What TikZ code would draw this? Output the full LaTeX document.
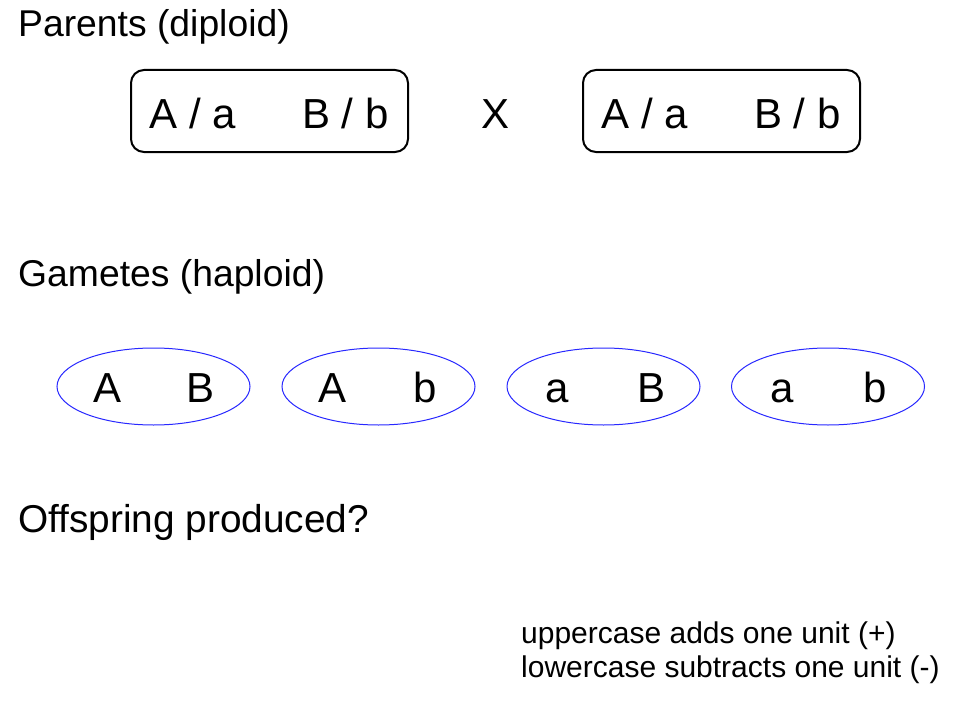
\documentclass[tikz,border=0pt]{standalone}
\usepackage{fontspec}
\setmainfont{Liberation Sans}
\usetikzlibrary{shapes.geometric}
\begin{document}
\begin{tikzpicture}[x=1pt,y=-1pt,
  heading/.style={anchor=base west,inner sep=0pt,font=\fontsize{37.3}{44}\selectfont},
  parentbox/.style={draw=black,line width=2pt,rounded corners=13pt,minimum width=277pt,minimum height=82pt,inner sep=0pt},
  gamete/.style={draw={rgb,255:red,40;green,40;blue,255},line width=1pt,ellipse,minimum width=193pt,minimum height=77pt,inner sep=0pt},
  allele/.style={anchor=base,inner sep=0pt,font=\fontsize{42}{50}\selectfont},
  note/.style={anchor=base west,inner sep=0pt,font=\fontsize{30}{36}\selectfont}]
\useasboundingbox[fill=white] (0,0) rectangle (969,709);

\node[heading] (h1) at (18,37) {Parents (diploid)};
\node[heading] (h2) at (18,286) {Gametes (haploid)};
\node[heading,font=\fontsize{38.8}{46}\selectfont] (h3) at (18,532) {Offspring produced?};

\node[parentbox] (p1) at (269.5,111) {};
\node[parentbox] (p2) at (721.5,111) {};
\node[allele] (p1a) at (193,128) {A / a};
\node[allele] (p1b) at (345.5,128) {B / b};
\node[allele] (p2a) at (645,128) {A / a};
\node[allele] (p2b) at (797.5,128) {B / b};
\node[allele] (cross) at (495.5,128) {X};

\node[gamete] (g1) at (153.5,386.5) {};
\node[gamete] (g2) at (378.5,386.5) {};
\node[gamete] (g3) at (603.5,386.5) {};
\node[gamete] (g4) at (828,386.5) {};
\node[allele] (g1x) at (107.5,402) {A};
\node[allele] (g1y) at (200.5,402) {B};
\node[allele] (g2x) at (332.5,402) {A};
\node[allele] (g2y) at (425.5,402) {b};
\node[allele] (g3x) at (557,402) {a};
\node[allele] (g3y) at (651,402) {B};
\node[allele] (g4x) at (782,402) {a};
\node[allele] (g4y) at (875,402) {b};

\node[note] (n1) at (521,643) {uppercase adds one unit (+)};
\node[note] (n2) at (521,677) {lowercase subtracts one unit (-)};
\end{tikzpicture}
\end{document}
